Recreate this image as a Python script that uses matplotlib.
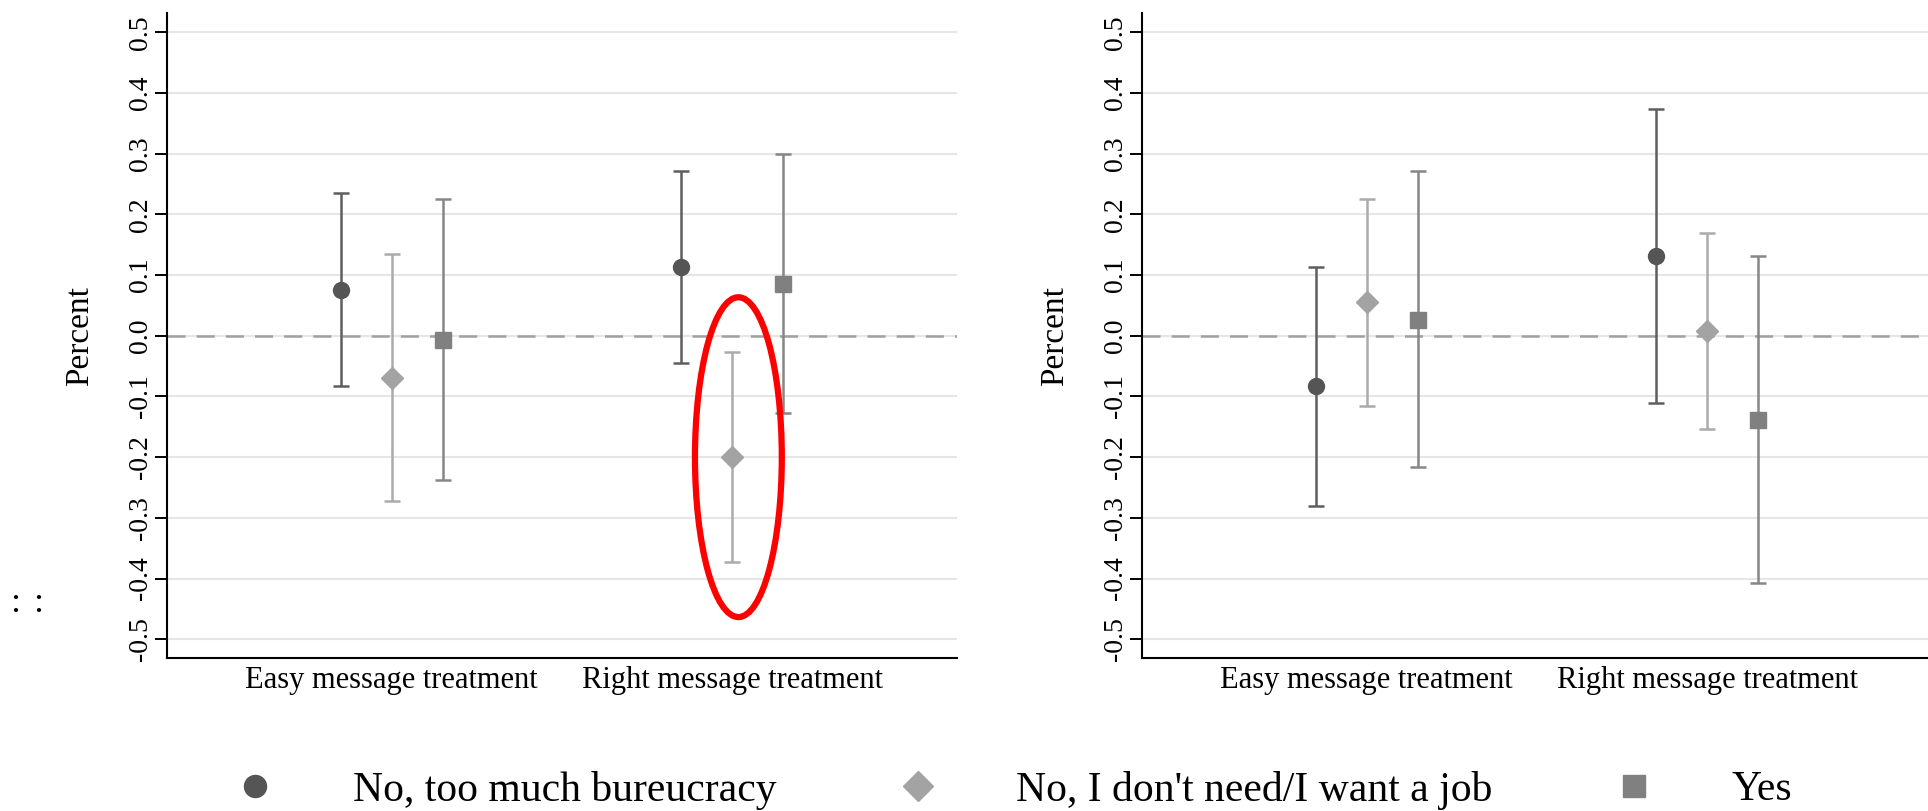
import matplotlib
matplotlib.use("Agg")
import matplotlib.pyplot as plt
from matplotlib.lines import Line2D
from matplotlib.patches import Ellipse

plt.rcParams["font.family"] = ["Liberation Serif", "DejaVu Serif"]
plt.rcParams["lines.scale_dashes"] = False

# ---- data -------------------------------------------------------------
categories = ["Easy message treatment", "Right message treatment"]
series_labels = ["No, too much bureucracy", "No, I don't need/I want a job", "Yes"]
ytick_values = [-0.5, -0.4, -0.3, -0.2, -0.1, 0.0, 0.1, 0.2, 0.3, 0.4, 0.5]
ytick_labels = ["-0.5", "-0.4", "-0.3", "-0.2", "-0.1", "0.0", "0.1", "0.2", "0.3", "0.4", "0.5"]

# left panel: estimate, lower and upper CI bound (Easy, Right)
left_bureau = [0.075, 0.114]
left_bureau_lo = [-0.083, -0.044]
left_bureau_hi = [0.236, 0.271]
left_noneed = [-0.070, -0.199]
left_noneed_lo = [-0.273, -0.373]
left_noneed_hi = [0.134, -0.026]
left_yes = [-0.007, 0.085]
left_yes_lo = [-0.238, -0.128]
left_yes_hi = [0.226, 0.299]

# right panel
right_bureau = [-0.083, 0.131]
right_bureau_lo = [-0.281, -0.111]
right_bureau_hi = [0.114, 0.373]
right_noneed = [0.055, 0.008]
right_noneed_lo = [-0.115, -0.153]
right_noneed_hi = [0.226, 0.170]
right_yes = [0.026, -0.139]
right_yes_lo = [-0.217, -0.408]
right_yes_hi = [0.271, 0.131]

# ---- styles -----------------------------------------------------------
styles = [
    dict(marker="o", mfc="#555555", mec="#555555", ecolor="#5e5e5e", ms=11.5),
    dict(marker="D", mfc="#a3a3a3", mec="#a3a3a3", ecolor="#ababab", ms=11.0),
    dict(marker="s", mfc="#808080", mec="#808080", ecolor="#868686", ms=12.0),
]
offsets = [-0.15, 0.0, 0.15]

W, H = 1928, 811
fig = plt.figure(figsize=(W / 100, H / 100), dpi=100)
ax_l = fig.add_axes([167 / W, (H - 658) / H, 790 / W, 645 / H])
ax_r = fig.add_axes([1142 / W, (H - 658) / H, 790 / W, 645 / H])


def draw_panel(ax, est, lo, hi):
    xs = list(range(len(categories)))
    for k, (e, l, h) in enumerate(zip(est, lo, hi)):
        st = styles[k]
        xp = [x + offsets[k] for x in xs]
        yerr = [[ei - li for ei, li in zip(e, l)], [hi_ - ei for ei, hi_ in zip(e, h)]]
        ax.errorbar(xp, e, yerr=yerr, fmt=st["marker"], ms=st["ms"],
                    mfc=st["mfc"], mec=st["mec"], ecolor=st["ecolor"],
                    elinewidth=1.8, capsize=5.5, capthick=1.8, zorder=3)
    ax.axhline(0, color="#a0a0a0", lw=1.8, dashes=(13, 8), zorder=2)
    ax.set_xlim(-0.66, 1.66)
    ax.set_ylim(-0.531, 0.532)
    ax.set_yticks(ytick_values)
    ax.set_yticklabels(ytick_labels, rotation=90, va="center")
    ax.set_xticks(xs)
    ax.set_xticklabels(categories, fontsize=22)
    ax.tick_params(axis="y", direction="out", length=8.6, width=1.4,
                   labelsize=20, pad=1.5)
    ax.tick_params(axis="x", length=0, pad=6)
    ax.grid(axis="y", color="#e6e6e6", lw=1.5, zorder=0)
    ax.set_axisbelow(True)
    for s in ("top", "right"):
        ax.spines[s].set_visible(False)
    for s in ("left", "bottom"):
        ax.spines[s].set_linewidth(1.5)
    ax.set_ylabel("Percent", fontsize=24, labelpad=24)


draw_panel(ax_l, [left_bureau, left_noneed, left_yes],
           [left_bureau_lo, left_noneed_lo, left_yes_lo],
           [left_bureau_hi, left_noneed_hi, left_yes_hi])
draw_panel(ax_r, [right_bureau, right_noneed, right_yes],
           [right_bureau_lo, right_noneed_lo, right_yes_lo],
           [right_bureau_hi, right_noneed_hi, right_yes_hi])

# highlight around the Right-message "no need" estimate
ax_l.add_patch(Ellipse((1.018, -0.2), 0.255, 0.527, fill=False,
                       edgecolor="#ff0000", lw=4.5, zorder=5, clip_on=False))

# legend
handles = [Line2D([], [], ls="none", marker=st["marker"], mfc=st["mfc"],
                  mec=st["mec"], ms=st["ms"] * 1.38) for st in styles]
fig.legend(handles, series_labels, loc="center", bbox_to_anchor=(0.52, 1 - 790 / H),
           ncol=3, frameon=False, fontsize=30, handlelength=2.0,
           handletextpad=1.35, columnspacing=2.4)

# stray colons at the left margin
fig.text(15 / W, 1 - 604 / H, ":", fontsize=26, ha="center", va="center")
fig.text(38 / W, 1 - 604 / H, ":", fontsize=26, ha="center", va="center")

fig.savefig("out.png", dpi=100)
